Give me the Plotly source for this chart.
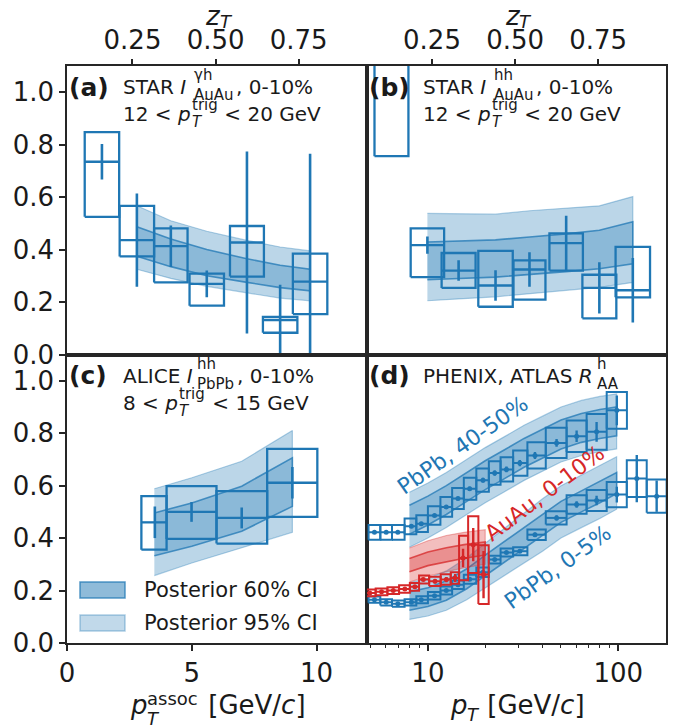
import numpy as np
import plotly.graph_objects as go

BLUE = '#1f77b4'
RED = '#d62728'
INK = '#1a1a1a'
FONT = 'DejaVu Sans'

# ---------------- Panel (a): STAR I_AuAu^{gamma h} ----------------
a_x = [1.40, 2.80, 4.16, 5.60, 7.21, 8.54, 9.74]
a_y = [0.735, 0.436, 0.413, 0.269, 0.427, 0.131, 0.278]
a_stat = [0.068, 0.178, 0.079, 0.051, 0.347, 0.135, 0.487]
a_sys_lo = [0.525, 0.374, 0.275, 0.186, 0.297, 0.083, 0.154]
a_sys_hi = [0.848, 0.567, 0.481, 0.308, 0.490, 0.143, 0.385]
a_binhalf = [0.69, 0.69, 0.67, 0.69, 0.68, 0.69, 0.69]
a_band_x = [2.80, 4.16, 5.60, 7.21, 8.54, 9.74]
a_95_hi = [0.567, 0.510, 0.470, 0.435, 0.410, 0.395]
a_95_lo = [0.325, 0.290, 0.260, 0.235, 0.215, 0.205]
a_60_hi = [0.487, 0.440, 0.400, 0.365, 0.340, 0.325]
a_60_lo = [0.375, 0.335, 0.300, 0.275, 0.255, 0.243]

# ---------------- Panel (b): STAR I_AuAu^{hh} ----------------
b_x = [1.00, 2.44, 3.69, 5.17, 6.53, 8.00, 9.33, 10.67]
b_y = [1.35, 0.417, 0.320, 0.263, 0.324, 0.425, 0.254, 0.245]
b_stat = [0.05, 0.033, 0.039, 0.058, 0.066, 0.104, 0.098, 0.123]
b_sys_lo = [0.756, 0.295, 0.254, 0.182, 0.209, 0.320, 0.138, 0.218]
b_sys_hi = [1.90, 0.481, 0.387, 0.395, 0.359, 0.462, 0.304, 0.410]
b_binhalf = [0.68, 0.67, 0.68, 0.69, 0.64, 0.67, 0.68, 0.69]
b_band_x = [2.44, 3.69, 5.17, 6.53, 8.00, 9.33, 10.67]
b_95_hi = [0.538, 0.537, 0.535, 0.548, 0.558, 0.567, 0.602]
b_95_lo = [0.205, 0.212, 0.220, 0.232, 0.245, 0.256, 0.275]
b_60_hi = [0.429, 0.432, 0.437, 0.448, 0.460, 0.474, 0.506]
b_60_lo = [0.285, 0.290, 0.295, 0.305, 0.316, 0.327, 0.346]

# ---------------- Panel (c): ALICE I_PbPb^{hh} ----------------
c_x = [3.52, 4.99, 7.00, 9.03]
c_y = [0.460, 0.500, 0.477, 0.611]
c_stat = [0.060, 0.038, 0.040, 0.060]
c_sys_lo = [0.356, 0.397, 0.379, 0.481]
c_sys_hi = [0.560, 0.598, 0.579, 0.740]
c_bin_lo = [2.98, 3.99, 5.99, 8.02]
c_bin_hi = [3.99, 5.99, 8.02, 10.03]
c_band_x = [3.50, 5.00, 7.00, 9.03]
c_95_hi = [0.588, 0.630, 0.693, 0.810]
c_95_lo = [0.257, 0.305, 0.362, 0.422]
c_60_hi = [0.496, 0.534, 0.598, 0.706]
c_60_lo = [0.333, 0.369, 0.426, 0.521]

# ---------------- Panel (d): PHENIX, ATLAS R_AA ----------------
p4050_x = [5.24, 6.04, 6.95, 8.19, 9.23, 10.84, 12.49, 14.39, 16.57, 19.47,
           22.43, 25.85, 30.4, 36.5, 47.4, 60.4, 76.9, 98.2]
p4050_y = [0.422, 0.422, 0.422, 0.445, 0.455, 0.486, 0.519, 0.551, 0.588, 0.621,
           0.648, 0.662, 0.686, 0.715, 0.763, 0.788, 0.805, 0.887]
p4050_sys = [0.028, 0.028, 0.028, 0.030, 0.032, 0.035, 0.038, 0.040, 0.042, 0.044,
             0.045, 0.046, 0.048, 0.050, 0.058, 0.060, 0.068, 0.070]
p4050_stat = [0.004, 0.004, 0.004, 0.005, 0.005, 0.006, 0.006, 0.007, 0.008, 0.009,
              0.010, 0.011, 0.012, 0.013, 0.015, 0.022, 0.038, 0.057]

p005_x = [5.24, 6.04, 6.95, 8.19, 9.23, 10.84, 12.49, 14.39, 16.57, 19.47,
          22.43, 25.85, 30.4, 36.5, 47.4, 60.4, 76.9, 98.2, 125.0, 159.0]
p005_y = [0.165, 0.155, 0.150, 0.155, 0.165, 0.180, 0.200, 0.222, 0.243, 0.270,
          0.318, 0.345, 0.350, 0.413, 0.477, 0.528, 0.543, 0.566, 0.627, 0.560]
p005_sys = [0.012, 0.012, 0.012, 0.012, 0.013, 0.014, 0.015, 0.016, 0.017, 0.018,
            0.015, 0.015, 0.015, 0.020, 0.025, 0.035, 0.040, 0.048, 0.070, 0.063]
p005_stat = [0.003, 0.003, 0.003, 0.003, 0.003, 0.004, 0.004, 0.004, 0.005, 0.005,
             0.006, 0.006, 0.007, 0.008, 0.010, 0.012, 0.018, 0.030, 0.090, 0.060]

au_x = [4.95, 5.71, 6.58, 7.57, 8.54, 9.46, 10.9, 12.5, 13.9, 15.3, 17.3, 19.6]
au_y = [0.191, 0.195, 0.200, 0.206, 0.214, 0.242, 0.235, 0.242, 0.248, 0.324, 0.375, 0.261]
au_sys = [0.013, 0.013, 0.013, 0.014, 0.015, 0.015, 0.018, 0.020, 0.022, 0.085, 0.108, 0.112]
au_stat = [0.003, 0.003, 0.004, 0.004, 0.005, 0.006, 0.008, 0.010, 0.015, 0.035, 0.063, 0.090]

d_band_x = [8, 10, 12.5, 16, 20, 25, 32, 40, 50, 64, 80, 98]
b4050_95_hi = [0.575, 0.61, 0.65, 0.70, 0.745, 0.785, 0.83, 0.865, 0.90, 0.925, 0.94, 0.95]
b4050_95_lo = [0.365, 0.40, 0.44, 0.49, 0.535, 0.575, 0.62, 0.655, 0.69, 0.715, 0.73, 0.74]
b4050_60_hi = [0.525, 0.56, 0.60, 0.65, 0.695, 0.735, 0.78, 0.815, 0.85, 0.875, 0.89, 0.90]
b4050_60_lo = [0.415, 0.45, 0.49, 0.54, 0.585, 0.625, 0.67, 0.705, 0.74, 0.765, 0.78, 0.79]
b005_95_hi = [0.23, 0.247, 0.275, 0.325, 0.38, 0.435, 0.495, 0.55, 0.60, 0.64, 0.675, 0.71]
b005_95_lo = [0.09, 0.103, 0.125, 0.165, 0.21, 0.255, 0.305, 0.35, 0.40, 0.44, 0.475, 0.51]
b005_60_hi = [0.195, 0.211, 0.237, 0.283, 0.335, 0.385, 0.44, 0.49, 0.54, 0.58, 0.615, 0.65]
b005_60_lo = [0.125, 0.139, 0.163, 0.207, 0.255, 0.305, 0.36, 0.41, 0.46, 0.50, 0.535, 0.57]
au_band_x = [8.0, 10.0, 12.5, 15.5, 20.0]
au_95_hi = [0.362, 0.390, 0.410, 0.422, 0.432]
au_95_lo = [0.232, 0.255, 0.272, 0.287, 0.300]
au_60_hi = [0.322, 0.347, 0.363, 0.375, 0.385]
au_60_lo = [0.272, 0.295, 0.310, 0.323, 0.335]

y_ticks = [0.0, 0.2, 0.4, 0.6, 0.8, 1.0]
zt_ticks = [0.25, 0.50, 0.75]
pt_ticks = [10, 100]
pt_minor = [5, 6, 7, 8, 9, 20, 30, 40, 50, 60, 70, 80, 90]


def rgba(hexc, a):
    h = hexc.lstrip('#')
    r, g, b = int(h[0:2], 16), int(h[2:4], 16), int(h[4:6], 16)
    return f'rgba({r},{g},{b},{a})'


def log_edges(xs):
    lx = np.log10(xs)
    mids = (lx[1:] + lx[:-1]) / 2
    first = lx[0] - (mids[0] - lx[0])
    last = lx[-1] + (lx[-1] - mids[-1])
    e = np.concatenate([[first], mids, [last]])
    return list(10 ** e[:-1]), list(10 ** e[1:])


def box_trace(x0, x1, ylo, yhi, ymid, color, width, xa, ya):
    xs, ys = [], []
    for a, b, lo, hi, m in zip(x0, x1, ylo, yhi, ymid):
        xs += [a, b, b, a, a, None, a, b, None]
        ys += [lo, lo, hi, hi, lo, None, m, m, None]
    return go.Scatter(x=xs, y=ys, mode='lines', line=dict(color=color, width=width),
                      xaxis=xa, yaxis=ya, showlegend=False, hoverinfo='skip',
                      connectgaps=False)


def band_trace(xs, lo, hi, color, alpha, lalpha, lw, xa, ya):
    return go.Scatter(x=list(xs) + list(xs)[::-1], y=list(hi) + list(lo)[::-1],
                      fill='toself', fillcolor=rgba(color, alpha), mode='lines',
                      line=dict(color=rgba(color, lalpha), width=lw),
                      xaxis=xa, yaxis=ya, showlegend=False, hoverinfo='skip')


def err_trace(xs, ys, errs, color, th, msize, xa, ya):
    return go.Scatter(x=xs, y=ys, mode='markers', marker=dict(size=msize, color=color),
                      error_y=dict(type='data', array=errs, color=color, thickness=th, width=0),
                      xaxis=xa, yaxis=ya, showlegend=False, hoverinfo='skip')


fig = go.Figure()

# Panel a
fig.add_trace(band_trace(a_band_x, a_95_lo, a_95_hi, BLUE, 0.3, 0.35, 1.2, 'x', 'y'))
fig.add_trace(band_trace(a_band_x, a_60_lo, a_60_hi, BLUE, 0.3, 0.75, 1.6, 'x', 'y'))
fig.add_trace(box_trace([x - h for x, h in zip(a_x, a_binhalf)], [x + h for x, h in zip(a_x, a_binhalf)],
                        a_sys_lo, a_sys_hi, a_y, BLUE, 2.3, 'x', 'y'))
fig.add_trace(err_trace(a_x, a_y, a_stat, BLUE, 2.6, 1, 'x', 'y'))

# Panel b
fig.add_trace(band_trace(b_band_x, b_95_lo, b_95_hi, BLUE, 0.3, 0.35, 1.2, 'x2', 'y2'))
fig.add_trace(band_trace(b_band_x, b_60_lo, b_60_hi, BLUE, 0.3, 0.75, 1.6, 'x2', 'y2'))
fig.add_trace(box_trace([x - h for x, h in zip(b_x, b_binhalf)], [x + h for x, h in zip(b_x, b_binhalf)],
                        b_sys_lo, b_sys_hi, b_y, BLUE, 2.3, 'x2', 'y2'))
fig.add_trace(err_trace(b_x, b_y, b_stat, BLUE, 2.6, 1, 'x2', 'y2'))

# Panel c
fig.add_trace(band_trace(c_band_x, c_95_lo, c_95_hi, BLUE, 0.3, 0.35, 1.2, 'x3', 'y3'))
fig.add_trace(band_trace(c_band_x, c_60_lo, c_60_hi, BLUE, 0.3, 0.75, 1.6, 'x3', 'y3'))
fig.add_trace(box_trace(c_bin_lo, c_bin_hi, c_sys_lo, c_sys_hi, c_y, BLUE, 2.3, 'x3', 'y3'))
fig.add_trace(err_trace(c_x, c_y, c_stat, BLUE, 2.6, 1, 'x3', 'y3'))

# Panel d
fig.add_trace(band_trace(d_band_x, b4050_95_lo, b4050_95_hi, BLUE, 0.3, 0.35, 1.2, 'x4', 'y4'))
fig.add_trace(band_trace(d_band_x, b4050_60_lo, b4050_60_hi, BLUE, 0.3, 0.75, 1.6, 'x4', 'y4'))
fig.add_trace(band_trace(d_band_x, b005_95_lo, b005_95_hi, BLUE, 0.3, 0.35, 1.2, 'x4', 'y4'))
fig.add_trace(band_trace(d_band_x, b005_60_lo, b005_60_hi, BLUE, 0.3, 0.75, 1.6, 'x4', 'y4'))
fig.add_trace(band_trace(au_band_x, au_95_lo, au_95_hi, RED, 0.3, 0.35, 1.2, 'x4', 'y4'))
fig.add_trace(band_trace(au_band_x, au_60_lo, au_60_hi, RED, 0.3, 0.75, 1.6, 'x4', 'y4'))

for xs, ys, sy, st, col in [(p005_x, p005_y, p005_sys, p005_stat, BLUE),
                            (au_x, au_y, au_sys, au_stat, RED),
                            (p4050_x, p4050_y, p4050_sys, p4050_stat, BLUE)]:
    e0, e1 = log_edges(xs)
    fig.add_trace(box_trace(e0, e1, [y - s for y, s in zip(ys, sy)], [y + s for y, s in zip(ys, sy)],
                            ys, col, 2.0, 'x4', 'y4'))
    fig.add_trace(err_trace(xs, ys, st, col, 2.4, 5, 'x4', 'y4'))

# invisible anchors for the top z_T axes
fig.add_trace(go.Scatter(x=[0.5], y=[-1], xaxis='x5', yaxis='y', mode='markers',
                         marker=dict(opacity=0), showlegend=False, hoverinfo='skip'))
fig.add_trace(go.Scatter(x=[0.5], y=[-1], xaxis='x6', yaxis='y2', mode='markers',
                         marker=dict(opacity=0), showlegend=False, hoverinfo='skip'))

LC = '#262626'
TF = 26
base = dict(showline=True, linecolor=LC, linewidth=1.5, mirror=True, showgrid=False,
            zeroline=False, ticks='outside', ticklen=6, tickwidth=1.5, tickcolor=LC,
            automargin=False, tickfont=dict(size=TF, color=INK, family=FONT))
yt = dict(tickmode='array', tickvals=y_ticks, ticktext=[f'{v:.1f}' for v in y_ticks], range=[0, 1.1])
ztick = dict(tickmode='array', tickvals=zt_ticks, ticktext=[f'{v:.2f}' for v in zt_ticks])

# page has an 8px body margin: plot area sits at x 67..666, y 66..643 of the window
fig.update_layout(
    width=685, height=727, margin=dict(l=59, r=27, t=58, b=92),
    plot_bgcolor='white', paper_bgcolor='white', showlegend=False,
    font=dict(family=FONT, size=20, color=INK),
    xaxis=dict(base, domain=[0, 0.5], anchor='y', range=[0, 12], ticks='', showticklabels=False),
    yaxis=dict(base, domain=[0.5, 1], anchor='x', **yt),
    xaxis2=dict(base, domain=[0.5, 1], anchor='y2', range=[0, 12], ticks='', showticklabels=False),
    yaxis2=dict(base, domain=[0.5, 1], anchor='x2', range=[0, 1.1], ticks='', showticklabels=False),
    xaxis3=dict(base, domain=[0, 0.5], anchor='y3', range=[0, 12], tickmode='array',
                tickvals=[0, 5, 10], ticktext=['0', '5', '10']),
    yaxis3=dict(base, domain=[0, 0.5], anchor='x3', **yt),
    xaxis4=dict(base, domain=[0.5, 1], anchor='y4', type='log',
                range=[np.log10(4.76), np.log10(178)], tickmode='array',
                tickvals=pt_ticks, ticktext=[str(v) for v in pt_ticks],
                minor=dict(tickmode='array', tickvals=pt_minor, ticks='outside', ticklen=3.5,
                           tickwidth=1.2, tickcolor=LC)),
    yaxis4=dict(base, domain=[0, 0.5], anchor='x4', range=[0, 1.1], ticks='', showticklabels=False),
    xaxis5=dict(base, overlaying='x', side='top', anchor='y', range=[0.053, 0.954],
                showline=False, mirror=False, **ztick),
    xaxis6=dict(base, overlaying='x2', side='top', anchor='y2', range=[0.053, 0.954],
                showline=False, mirror=False, **ztick),
)

# approximate DejaVu Sans advance widths (em)
W = {' ': 0.318, ',': 0.318, '-': 0.361, '%': 0.950, '<': 0.838, '(': 0.390, ')': 0.390,
     '[': 0.390, ']': 0.390, '/': 0.337, 'A': 0.684, 'C': 0.698, 'E': 0.632, 'G': 0.775,
     'H': 0.752, 'I': 0.295, 'L': 0.557, 'N': 0.748, 'P': 0.603, 'R': 0.695, 'S': 0.635,
     'T': 0.611, 'V': 0.684, 'X': 0.685, 'a': 0.613, 'b': 0.635, 'c': 0.550, 'e': 0.615,
     'g': 0.635, 'h': 0.634, 'i': 0.278, 'o': 0.612, 'p': 0.635, 'r': 0.411, 's': 0.521,
     't': 0.392, 'u': 0.634, 'v': 0.592, 'z': 0.525, 'γ': 0.592}
for d in '0123456789':
    W[d] = 0.636


def tw(s, size):
    return sum(W.get(ch, 0.6) for ch in s) * size


def P(px, py):
    return (px - 67) / 599, (643 - py) / 577


def ann(px, py, text, size=20, color=INK, xanchor='left', angle=0):
    x, y = P(px, py)
    fig.add_annotation(x=x, y=y, xref='paper', yref='paper', text=text, showarrow=False,
                       xanchor=xanchor, yanchor='middle', textangle=angle, borderpad=0,
                       font=dict(size=size, color=color, family=FONT))


def rich(px, py, pieces, size=20, ssize=15, up=12, down=8, color=INK):
    """pieces: ('t', html, plain) or ('ss', sup_html, sup_plain, sub_html, sub_plain, gap0, gap1)"""
    x = px
    for pc in pieces:
        if pc[0] == 't':
            ann(x, py, pc[1], size=size, color=color)
            x += tw(pc[2], size)
        else:
            _, suph, supp, subh, subp, g0, g1 = pc
            x += g0
            if suph:
                ann(x, py - up, suph, size=ssize, color=color)
            if subh:
                ann(x, py + down, subh, size=ssize, color=color)
            x += max(tw(supp, ssize), tw(subp, ssize)) + g1


# panel labels
for PL, PT, lab, l1, l2 in [
    (67, 66, '(a)',
     [('t', 'STAR <i>I</i>', 'STAR I'), ('ss', 'γh', 'γh', 'AuAu', 'AuAu', 6, 3), ('t', ', 0-10%', ', 0-10%')],
     [('t', '12 < <i>p</i>', '12 < p'), ('ss', 'trig', 'trig', '<i>T</i>', 'T', 1, 1), ('t', ' < 20 GeV', ' < 20 GeV')]),
    (367, 66, '(b)',
     [('t', 'STAR <i>I</i>', 'STAR I'), ('ss', 'hh', 'hh', 'AuAu', 'AuAu', 6, 3), ('t', ', 0-10%', ', 0-10%')],
     [('t', '12 < <i>p</i>', '12 < p'), ('ss', 'trig', 'trig', '<i>T</i>', 'T', 1, 1), ('t', ' < 20 GeV', ' < 20 GeV')]),
    (67, 354.5, '(c)',
     [('t', 'ALICE <i>I</i>', 'ALICE I'), ('ss', 'hh', 'hh', 'PbPb', 'PbPb', 4, 3), ('t', ', 0-10%', ', 0-10%')],
     [('t', '8 < <i>p</i>', '8 < p'), ('ss', 'trig', 'trig', '<i>T</i>', 'T', 1, 1), ('t', ' < 15 GeV', ' < 15 GeV')]),
    (367, 354.5, '(d)',
     [('t', 'PHENIX, ATLAS <i>R</i>', 'PHENIX, ATLAS R'), ('ss', 'h', 'h', 'AA', 'AA', 3, 2)],
     None)]:
    Y1 = PT + 21
    ann(PL + 1, Y1, '<b>' + lab + '</b>', size=25)
    rich(PL + 55, Y1, l1, up=12, down=8)
    if l2:
        rich(PL + 55, Y1 + 27.5, l2, up=9, down=8)

ann(462, 445, 'PbPb, 40-50%', size=22, color=BLUE, xanchor='center', angle=-35)
ann(544, 493, 'AuAu, 0-10%', size=22, color=RED, xanchor='center', angle=-37)
ann(557, 567, 'PbPb, 0-5%', size=22, color=BLUE, xanchor='center', angle=-36)

# axis titles
title_left = [('t', '<i>p</i>', 'p'), ('ss', 'assoc', 'assoc', '<i>T</i>', 'T', 1, 2),
              ('t', ' [GeV/<i>c</i>]', ' [GeV/c]')]
wl = tw('p', TF) + 1 + tw('assoc', 18) + 2 + tw(' [GeV/c]', TF)
rich(216.5 - wl / 2, 705, title_left, size=TF, ssize=18, up=7, down=13)
rich(516.5 - (tw('p', TF) + 1 + tw('T', 18) + 1 + tw(' [GeV/c]', TF)) / 2, 705,
     [('t', '<i>p</i>', 'p'), ('ss', None, '', '<i>T</i>', 'T', 1, 1), ('t', ' [GeV/<i>c</i>]', ' [GeV/c]')],
     size=TF, ssize=18, up=10, down=9)
for cx in (217, 516.5):
    wz = tw('z', TF) + 1 + tw('T', 18)
    rich(cx - wz / 2, 16, [('t', '<i>z</i>', 'z'), ('ss', None, '', '<i>T</i>', 'T', 1, 0)],
         size=TF, ssize=18, up=10, down=6)

# legend (manual)
for (y0, y1, fa, la, label) in [(582, 598, 0.5, 0.75, 'Posterior 60% CI'),
                                (615, 631, 0.28, 0.35, 'Posterior 95% CI')]:
    x0p, y0p = P(80, y1)
    x1p, y1p = P(125, y0)
    fig.add_shape(type='rect', xref='paper', yref='paper', x0=x0p, x1=x1p, y0=y0p, y1=y1p,
                  fillcolor=rgba(BLUE, fa), line=dict(color=rgba(BLUE, la), width=1.5))
    ann(143, (y0 + y1) / 2, label, size=21)

fig.write_html('out.html')
